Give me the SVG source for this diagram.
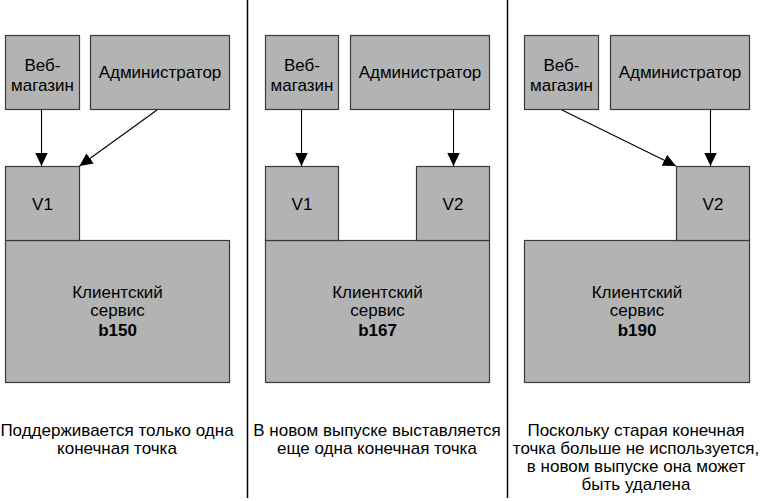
<svg xmlns="http://www.w3.org/2000/svg" width="763" height="501" viewBox="0 0 763 501">
<defs>
<style>
.box{fill:#b3b3b3;stroke:#3a3a3a;stroke-width:1.2}
.t{font-family:"Liberation Sans",Arial,sans-serif;font-size:17px;fill:#000;text-anchor:middle}
.b{font-weight:bold}
.c{stroke:#000;stroke-width:1.1;fill:none;marker-end:url(#ah)}
.sep{stroke:#000;stroke-width:1.5}
</style>
<marker id="ah" markerUnits="userSpaceOnUse" markerWidth="14" markerHeight="14" viewBox="0 0 14 14" refX="13" refY="7" orient="auto">
<path d="M0,0.8 L13,7 L0,13.2 Z" fill="#000"/>
</marker>
</defs>
<rect width="763" height="501" fill="#fff"/>
<line class="sep" x1="247.5" y1="0" x2="247.5" y2="498"/>
<line class="sep" x1="507.5" y1="0" x2="507.5" y2="498"/>

<!-- Panel 1 -->
<g id="p1-web"><rect class="box" x="5.5" y="35.5" width="74" height="74"/><text class="t" x="42.5" y="71">Веб-</text><text class="t" x="42.5" y="91">магазин</text></g>
<g id="p1-admin"><rect class="box" x="90.5" y="35.5" width="139" height="74"/><text class="t" x="160" y="78">Администратор</text></g>
<g id="p1-service"><rect class="box" x="5.5" y="240.5" width="224" height="142"/><text class="t" x="117.5" y="298">Клиентский</text><text class="t" x="117.5" y="316">сервис</text><text class="t b" x="117.5" y="336">b150</text></g>
<g id="p1-v1"><rect class="box" x="5.5" y="166.5" width="74" height="74"/><text class="t" x="42.5" y="210">V1</text></g>
<g id="p1-caption"><text class="t" x="117" y="436">Поддерживается только одна</text><text class="t" x="117" y="454">конечная точка</text></g>

<!-- Panel 2 -->
<g id="p2-web"><rect class="box" x="265.5" y="35.5" width="73" height="74"/><text class="t" x="302" y="71">Веб-</text><text class="t" x="302" y="91">магазин</text></g>
<g id="p2-admin"><rect class="box" x="350.5" y="35.5" width="139" height="74"/><text class="t" x="420" y="78">Администратор</text></g>
<g id="p2-service"><rect class="box" x="265.5" y="240.5" width="224" height="142"/><text class="t" x="377.5" y="298">Клиентский</text><text class="t" x="377.5" y="316">сервис</text><text class="t b" x="377.5" y="336">b167</text></g>
<g id="p2-v1"><rect class="box" x="265.5" y="166.5" width="73" height="74"/><text class="t" x="302" y="210">V1</text></g>
<g id="p2-v2"><rect class="box" x="416.5" y="166.5" width="73" height="74"/><text class="t" x="453" y="210">V2</text></g>
<g id="p2-caption"><text class="t" x="377" y="436">В новом выпуске выставляется</text><text class="t" x="377" y="454">еще одна конечная точка</text></g>

<!-- Panel 3 -->
<g id="p3-web"><rect class="box" x="524.5" y="35.5" width="74" height="74"/><text class="t" x="561.5" y="71">Веб-</text><text class="t" x="561.5" y="91">магазин</text></g>
<g id="p3-admin"><rect class="box" x="610.5" y="35.5" width="139" height="74"/><text class="t" x="680" y="78">Администратор</text></g>
<g id="p3-service"><rect class="box" x="524.5" y="240.5" width="225" height="142"/><text class="t" x="637" y="298">Клиентский</text><text class="t" x="637" y="316">сервис</text><text class="t b" x="637" y="336">b190</text></g>
<g id="p3-v2"><rect class="box" x="676.5" y="166.5" width="73" height="74"/><text class="t" x="713" y="210">V2</text></g>
<g id="p3-caption"><text class="t" x="636" y="436">Поскольку старая конечная</text><text class="t" x="636" y="454">точка больше не используется,</text><text class="t" x="636" y="472">в новом выпуске она может</text><text class="t" x="636" y="490">быть удалена</text></g>

<g id="connectors">
<line class="c" x1="41.5" y1="110" x2="41.5" y2="166"/>
<line class="c" x1="157" y1="110" x2="79.5" y2="166"/>
<line class="c" x1="301.5" y1="110" x2="301.5" y2="166"/>
<line class="c" x1="453.5" y1="110" x2="453.5" y2="166"/>
<line class="c" x1="562" y1="110" x2="676" y2="166"/>
<line class="c" x1="710.5" y1="110" x2="710.5" y2="166"/>
</g>
</svg>
